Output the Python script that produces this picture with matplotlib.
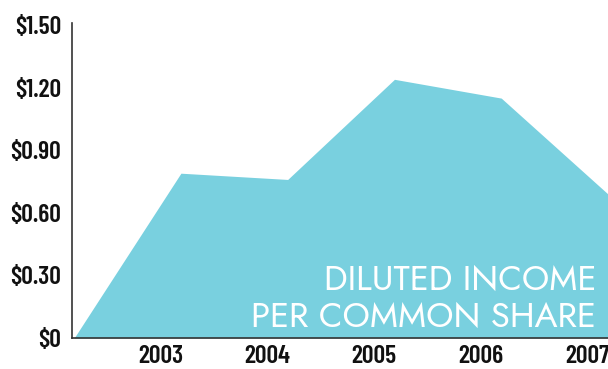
import matplotlib
matplotlib.use("Agg")
from matplotlib import pyplot as plt

# diluted income per common share, by year (2002 is the zero baseline start)
years = [2002, 2003, 2004, 2005, 2006, 2007]
eps = [0.0, 0.79, 0.76, 1.24, 1.15, 0.69]
tick_years = [2003, 2004, 2005, 2006, 2007]
y_ticks = [0, 0.30, 0.60, 0.90, 1.20, 1.50]
y_labels = ['$0', '$0.30', '$0.60', '$0.90', '$1.20', '$1.50']

fill_color = '#79d0df'
tick_font = ['Barlow Condensed', 'DejaVu Sans']
title_font = ['Jost', 'Lato', 'DejaVu Sans']

fig = plt.figure(figsize=(6.08, 3.69), dpi=100)
ax = fig.add_axes([72 / 608, 31 / 369, 536 / 608, 315 / 369])

ax.fill_between(years, eps, 0, color=fill_color, linewidth=0)

ax.set_xlim(2001.98, 2007.0)
ax.set_ylim(0, 1.51)

# year labels sit a little left of each peak
ax.set_xticks([y - 0.19 for y in tick_years])
ax.set_xticklabels([str(y) for y in tick_years])
ax.set_yticks(y_ticks)
ax.set_yticklabels(y_labels)

for lbl in ax.get_xticklabels() + ax.get_yticklabels():
    lbl.set_family(tick_font)
    lbl.set_fontweight(600)
    lbl.set_fontsize(18.5)
    lbl.set_color('#111111')

ax.tick_params(axis='both', length=0)
ax.tick_params(axis='y', pad=8)
ax.tick_params(axis='x', pad=5)

for side in ['top', 'right']:
    ax.spines[side].set_visible(False)
for side in ['left', 'bottom']:
    ax.spines[side].set_color('#333333')
    ax.spines[side].set_linewidth(1.2)

ax.text(0.978, 0.012, 'DILUTED INCOME\nPER COMMON SHARE', transform=ax.transAxes,
        ha='right', va='bottom', color='white', fontsize=25, fontweight=500,
        family=title_font, linespacing=1.12)

fig.savefig('out.png', dpi=100)
